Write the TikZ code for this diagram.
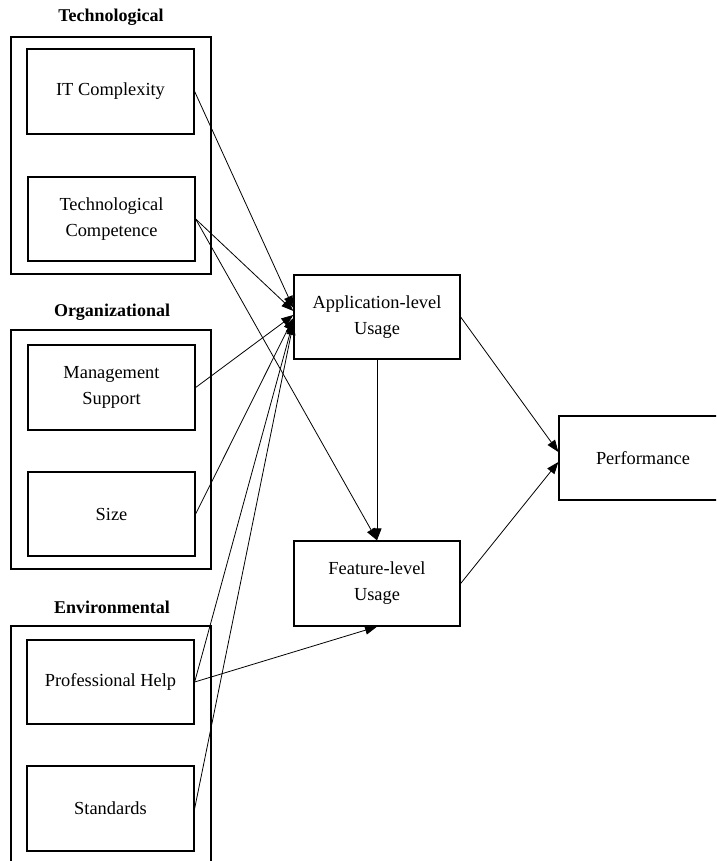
\documentclass[tikz,border=0pt]{standalone}
\usepackage{fontspec}
\setmainfont{Liberation Serif}
\usetikzlibrary{arrows.meta}
\begin{document}
\begin{tikzpicture}[x=1pt,y=-1pt,
  every node/.style={font=\fontsize{18.4}{26}\selectfont},
  factor/.style={draw,line width=1.3pt,minimum width=167pt,align=center,inner sep=0pt},
  group/.style={draw,line width=1.3pt,minimum width=200pt,inner sep=0pt},
  construct/.style={draw,line width=1.3pt,minimum width=166pt,minimum height=84pt,align=center,inner sep=0pt},
  heading/.style={font=\fontsize{18}{22}\selectfont\bfseries},
  link/.style={line width=0.8pt,-{Triangle[length=12pt,width=9pt]}}]
\clip (0,0) rectangle (716,861);
\fill[white] (0,0) rectangle (716,861);

% group frames and headings
\node[group,minimum height=237pt] (gtech) at (111,155.5) {};
\node[group,minimum height=239pt] (gorg) at (111,449.5) {};
\draw[line width=1.3pt] (11,880) -- (11,626) -- (211,626) -- (211,880);
\node[heading] (htech) at (111,17) {Technological};
\node[heading] (horg) at (112,312) {Organizational};
\node[heading] (henv) at (112,607) {Environmental};

% antecedent factors
\node[factor,minimum height=85pt] (itc) at (110.5,91.5) {IT Complexity};
\node[factor,minimum height=84pt] (tc) at (111.5,219) {Technological\\Competence};
\node[factor,minimum height=85pt] (ms) at (111.5,387.5) {Management\\Support};
\node[factor,minimum height=84pt] (sz) at (111.5,514) {Size};
\node[factor,minimum height=84pt] (ph) at (110.5,682) {Professional Help};
\node[factor,minimum height=85pt] (st) at (110.5,808.5) {Standards};

% usage and outcome
\node[construct] (app) at (377,317) {Application-level\\Usage};
\node[construct,minimum height=85pt] (feat) at (377,583.5) {Feature-level\\Usage};
\node[construct,minimum width=168pt] (perf) at (643,458) {Performance};

% paths into application-level usage
\draw[link] (itc.east) -- ([yshift=9pt]app.west);
\draw[link] (tc.east) -- ([yshift=6pt]app.west);
\draw[link] (ms.east) -- ([yshift=2pt]app.west);
\draw[link] (sz.east) -- ([yshift=-1pt]app.west);
\draw[link] (ph.east) -- ([yshift=-4pt]app.west);
\draw[link] (st.east) -- ([yshift=-6pt]app.west);

% paths into feature-level usage
\draw[link] (tc.east) -- (feat.north);
\draw[link] (app.south) -- (feat.north);
\draw[link] (ph.east) -- (feat.south);

% paths into performance
\draw[link] (app.east) -- ([yshift=6pt]perf.west);
\draw[link] (feat.east) -- ([yshift=-4pt]perf.west);
\end{tikzpicture}
\end{document}
